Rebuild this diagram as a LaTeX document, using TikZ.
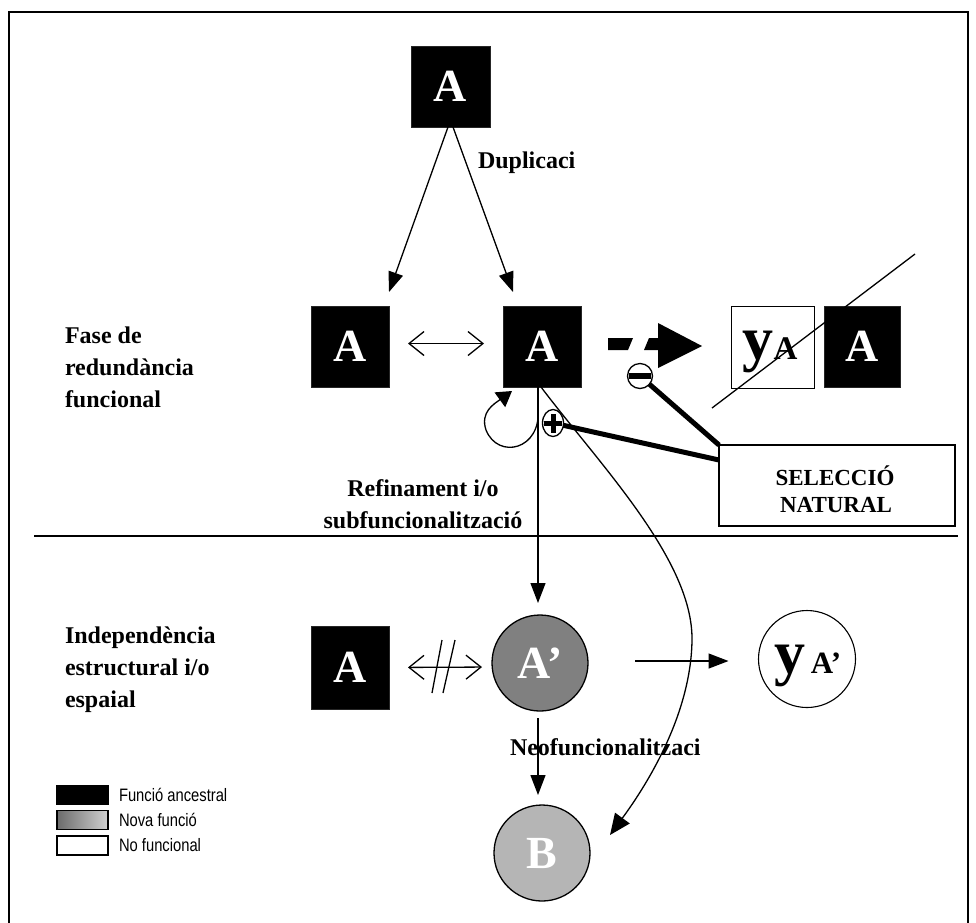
\documentclass[tikz,border=0pt]{standalone}
\usepackage{fontspec}
\setmainfont{Liberation Serif}
\newfontfamily\legendfont[FakeStretch=0.82]{Liberation Sans}
\usetikzlibrary{arrows.meta,calc,shapes.geometric}
\definecolor{newfn}{gray}{0.5}
\definecolor{newfnlight}{gray}{0.71}
\definecolor{shadedark}{gray}{0.42}
\definecolor{shadelight}{gray}{0.82}

\begin{document}
\begin{tikzpicture}[x=1pt,y=-1pt,
  every node/.style={inner sep=0pt, outer sep=0pt},
  ancestral/.style={draw=black!85, fill=black, line width=0.8pt,
    minimum width=78pt, minimum height=81pt, text=white,
    font=\fontsize{46}{46}\selectfont\bfseries},
  genecircle/.style={circle, draw=black, line width=1.3pt, minimum size=96pt,
    text=white, font=\fontsize{46}{46}\selectfont\bfseries},
  phase/.style={anchor=base west, font=\fontsize{24}{28}\selectfont\bfseries},
  steplabel/.style={font=\fontsize{24}{28}\selectfont\bfseries},
  seltext/.style={anchor=base, font=\fontsize{23}{27}\selectfont\bfseries},
  link/.style={line width=1.3pt},
  solidtip/.style={-{Triangle[length=20pt,width=15pt]}},
  openboth/.style={{Straight Barb[length=15pt,width=24pt]}-{Straight Barb[length=15pt,width=24pt]}},
  selline/.style={line width=5pt},
  swatch/.style={draw=black, line width=1.3pt, minimum width=51pt, minimum height=19pt},
  legendlabel/.style={anchor=west, font=\legendfont\fontsize{18}{20}\selectfont},
]
\useasboundingbox (0,0) rectangle (976,922);

% outer frame and phase separator
\draw[line width=1.4pt] (9,930) -- (9,12) -- (968,12) -- (968,930);
\coordinate (sepL) at (34,536);
\coordinate (sepR) at (958,536);
\draw[line width=1.8pt] (sepL) -- (sepR);

% gene copies
\node[ancestral, minimum width=79pt] (topA) at (450.5,86.5) {A};
\node[ancestral] (leftA) at (350,346.5) {A};
\node[ancestral] (midA) at (542,346.5) {A};
\node[draw=black, line width=1pt, fill=white, minimum width=83pt, minimum height=82pt] (yabox) at (772.5,347) {};
\node[anchor=base] (yatext) at (770,359) {\bfseries\fontsize{62}{62}\selectfont y\fontsize{33}{33}\selectfont A};
\node[ancestral, minimum width=76pt] (rightA) at (862,346.5) {A};
\node[ancestral, minimum height=83pt] (botA) at (350,667.5) {A};
\node[genecircle, fill=newfn] (aprime) at (540,663) {A’};
\node[genecircle, fill=newfnlight] (B) at (542,853) {B};
\node[circle, draw=black, line width=1.1pt, fill=white, minimum size=97pt] (yaprime) at (807,659) {};
\node[anchor=base] (yaptext) at (808,673) {\bfseries\fontsize{62}{62}\selectfont y\hspace{5pt}\fontsize{31}{31}\selectfont A’};

% phase labels
\node[phase] (fase1) at (65,343) {Fase de};
\node[phase] (fase2) at (65,375) {redundància};
\node[phase] (fase3) at (65,407) {funcional};
\node[phase] (indep1) at (65,643) {Independència};
\node[phase] (indep2) at (65,675) {estructural i/o};
\node[phase] (indep3) at (65,707) {espaial};

% step labels
\node[steplabel, anchor=base west] (dup) at (478,168) {Duplicaci};
\node[steplabel, anchor=base] (refi1) at (423,496) {Refinament i/o};
\node[steplabel, anchor=base] (refi2) at (423,528) {subfuncionalització};
\node[steplabel, anchor=base west] (neo) at (510,755) {Neofuncionalitzaci};

% duplication
\draw[link, solidtip] ([xshift=-2.5pt]topA.south) -- ([yshift=14pt]leftA.north east);
\draw[link, solidtip] ([xshift=2.5pt]topA.south) -- ([xshift=10pt,yshift=14pt]midA.north west);

% redundant copies
\draw[link, openboth, shorten <=19pt, shorten >=19pt] ([yshift=3pt]leftA.east) -- ([yshift=3pt]midA.west);

% loss of function: thick broken arrow with slanted dash ends
\coordinate (lossStart) at ([xshift=27pt,yshift=2.5pt]midA.east);
\fill ($(lossStart)+(0,-6)$) -- ($(lossStart)+(25,-6)$) -- ($(lossStart)+(20,6)$)
  -- ($(lossStart)+(0,6)$) -- cycle;
\fill ($(lossStart)+(41,-6)$) -- ($(lossStart)+(50,-6)$) -- ($(lossStart)+(50,-21)$)
  -- ($(lossStart)+(94,2)$) -- ($(lossStart)+(50,24)$) -- ($(lossStart)+(50,6)$)
  -- ($(lossStart)+(36,6)$) -- cycle;

% natural selection box and its links
\node[draw=black, line width=1.3pt, fill=white, minimum width=236pt, minimum height=81pt] (sel) at (837,485.5) {};
\node[seltext] (sel1) at (835,485) {SELECCIÓ};
\node[seltext] (sel2) at (836,512) {NATURAL};

\node[circle, draw=black, line width=1.3pt, fill=white, minimum size=25pt] (minus) at (640,376) {};
\node[ellipse, draw=black, line width=1.3pt, fill=white, minimum width=21pt, minimum height=27pt] (plus) at (553,423) {};
\draw[selline] (minus) -- (sel.north west);
\draw[selline] (plus) -- ([yshift=-15pt]sel.north west);
\draw[line width=5.5pt] ([xshift=-11pt]minus.center) -- ([xshift=11pt]minus.center);
\draw[line width=5pt] ([xshift=-9pt]plus.center) -- ([xshift=9pt]plus.center);
\draw[line width=5pt] ([yshift=-9.5pt]plus.center) -- ([yshift=9.5pt]plus.center);

% self loop under the redundant copy
\draw[link, -{Triangle[length=15pt,width=18pt]}]
  ([xshift=-4pt,yshift=-21pt]midA.south) .. controls (542,450) and (498,460) .. (486,430)
  .. controls (480,412) and (494,404) .. ([xshift=-30pt,yshift=-4pt]midA.south);

% refinement / subfunctionalisation
\draw[link, solidtip, shorten >=12pt] ([xshift=-4pt]midA.south) -- ([xshift=-2pt]aprime.north);

% neofunctionalisation, long path
\coordinate (curveEnd) at (610,835);
\draw[link, -{Triangle[length=21pt,width=18pt]}]
  ([xshift=-1pt]midA.south) .. controls (600,465) and (693,560) .. (692,640)
  .. controls (691,720) and (640,794) .. (curveEnd);

% structural / spatial independence
\draw[link, openboth, shorten <=19pt, shorten >=10pt] (botA.east) -- ([yshift=-4pt]aprime.west);
\draw[link] (432,693) -- (442,640);
\draw[link] (443,693) -- (455,640);
\draw[link, solidtip, shorten <=47pt, shorten >=30pt] ([yshift=2pt]aprime.east) -- ([yshift=-2pt]yaprime.west);
\draw[link, solidtip, shorten <=7pt, shorten >=10pt] ([xshift=-2pt]aprime.south) -- ([xshift=-4pt]B.north);

% strike-through of the lost copy
\coordinate (strikeA) at (915,254);
\coordinate (strikeB) at (712,408);
\draw[link] (strikeA) -- (strikeB);

% legend
\node[swatch, fill=black] (lgA) at (82.5,795) {};
\node[swatch, left color=shadedark, right color=shadelight] (lgN) at (82.5,820) {};
\node[swatch, fill=white] (lgW) at (82.5,845.5) {};
\node[legendlabel] (lgAt) at ([xshift=11pt]lgA.east) {Funció ancestral};
\node[legendlabel] (lgNt) at ([xshift=11pt]lgN.east) {Nova funció};
\node[legendlabel] (lgWt) at ([xshift=11pt]lgW.east) {No funcional};
\end{tikzpicture}
\end{document}
